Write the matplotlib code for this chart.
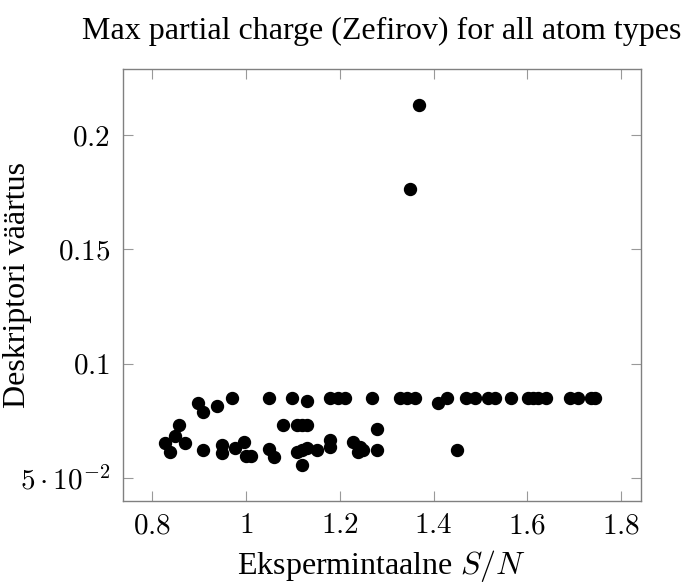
import matplotlib.pyplot as plt

# Andmed
sn = [0.828, 0.839, 0.850, 0.858, 0.871,
      0.899, 0.910, 0.938, 0.970,
      0.910, 0.949, 0.949, 0.977, 0.997, 1.000, 1.011,
      1.050, 1.098, 1.130, 1.179, 1.197, 1.211, 1.270,
      1.080, 1.109, 1.119, 1.130, 1.279,
      1.050, 1.060, 1.109, 1.119, 1.130, 1.151, 1.119,
      1.179, 1.179, 1.229, 1.243, 1.250, 1.240, 1.279,
      1.328, 1.343, 1.360, 1.410, 1.429, 1.449,
      1.470, 1.488, 1.516, 1.530, 1.566, 1.601, 1.612, 1.623, 1.639,
      1.690, 1.708, 1.736, 1.745,
      1.350, 1.369]
charge = [0.0651, 0.0614, 0.0684, 0.0731, 0.0651,
          0.0826, 0.0789, 0.0816, 0.0848,
          0.0621, 0.0643, 0.0607, 0.0629, 0.0658, 0.0595, 0.0595,
          0.0848, 0.0848, 0.0836, 0.0848, 0.0851, 0.0848, 0.0848,
          0.0731, 0.0731, 0.0731, 0.0731, 0.0714,
          0.0626, 0.0592, 0.0614, 0.0621, 0.0629, 0.0621, 0.0556,
          0.0665, 0.0636, 0.0655, 0.0636, 0.0621, 0.0614, 0.0621,
          0.0848, 0.0848, 0.0848, 0.0826, 0.0848, 0.0621,
          0.0848, 0.0848, 0.0848, 0.0848, 0.0848, 0.0848, 0.0848, 0.0848, 0.0848,
          0.0848, 0.0848, 0.0848, 0.0848,
          0.1765, 0.2132]

xticks = [0.8, 1.0, 1.2, 1.4, 1.6, 1.8]
xtick_labels = [r'$0.8$', r'$1$', r'$1.2$', r'$1.4$', r'$1.6$', r'$1.8$']
yticks = [0.05, 0.1, 0.15, 0.2]
ytick_labels = [r'$5\cdot10^{-2}$', r'$0.1$', r'$0.15$', r'$0.2$']

plt.rcParams['mathtext.fontset'] = 'cm'
plt.rcParams['font.family'] = 'Liberation Serif'

fig = plt.figure(figsize=(6.86, 5.82), dpi=100)
ax = fig.add_axes([0.1789, 0.1397, 0.9344 - 0.1789, 0.881 - 0.1397])
ax.plot(sn, charge, 'o', color='black', markersize=8.6)

ax.set_xlim(0.738, 1.842)
ax.set_ylim(0.0399, 0.229)
ax.set_xticks(xticks)
ax.set_xticklabels(xtick_labels)
ax.set_yticks(yticks)
ax.set_yticklabels(ytick_labels)

ax.tick_params(direction='in', top=True, right=True, length=7, width=0.8,
               color='#999999', labelsize=21, pad=9)
for s in ax.spines.values():
    s.set_color('#808080')
    s.set_linewidth(1.0)

ax.set_xlabel(r'Ekspermintaalne $S/N$', fontsize=23, labelpad=6)
ax.set_ylabel('Deskriptori väärtus', fontsize=23)
ax.yaxis.set_label_coords(-0.175, 0.5)
ax.set_title('Max partial charge (Zefirov) for all atom types', fontsize=23, pad=22)

plt.savefig('out.png', dpi=100)
